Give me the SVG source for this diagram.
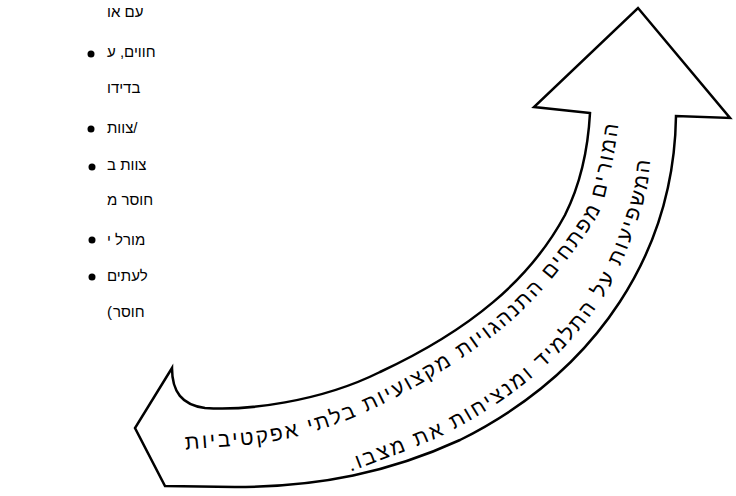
<svg xmlns="http://www.w3.org/2000/svg" width="736" height="496" viewBox="0 0 736 496">
<style>
.t{font-family:"Liberation Sans","DejaVu Sans",sans-serif;font-size:15px;fill:#000}
.a{font-family:"Liberation Sans","DejaVu Sans",sans-serif;font-size:21px;fill:#000}
.o{fill:#fff;stroke:#000;stroke-width:2.5;stroke-linejoin:miter}
</style>
<defs>
<path id="p1" d="M183,450 C218.7,446 255,446.5 290,438 C325,429.5 356.3,418.3 393,399 C429.7,379.7 477.2,350.5 510,322 C542.8,293.5 573.3,252.8 590,228 C606.7,203.2 605.2,190.7 610,173 C614.8,155.3 616,139 619,122"/>
<path id="p2" d="M345,474 C381.7,459 422,446.7 455,429 C488,411.3 517.8,390.7 543,368 C568.2,345.3 589.5,319.8 606,293 C622.5,266.2 634.5,229.7 642,207 C649.5,184.3 648,173.7 651,157"/>
</defs>
<rect width="736" height="496" fill="#fff"/>
<g id="list">
<text class="t" x="107" y="17">עם או</text>
<circle cx="91" cy="54" r="3.5"/>
<text class="t" x="107" y="57">חווים, ע</text>
<text class="t" x="107" y="93">בדידו</text>
<circle cx="91" cy="129" r="3.5"/>
<text class="t" x="107" y="133">צוות/</text>
<circle cx="92" cy="167" r="3.5"/>
<text class="t" x="107" y="170">צוות ב</text>
<text class="t" x="107" y="205">חוסר מ</text>
<circle cx="92" cy="240" r="3.5"/>
<text class="t" x="107" y="245">מורל י</text>
<circle cx="92" cy="277" r="3.5"/>
<text class="t" x="107" y="281">לעתים</text>
<text class="t" x="107" y="317" direction="ltr" unicode-bidi="bidi-override">(</text>
<text class="t" x="113" y="317">חוסר</text>
</g>
<g id="arrow">
<path class="o" d="M590,113 L534,107 L638,8 L730,118 L676,116 C674,250 600,370 460,440 C390,472 320,487 235,487 L165,486 L135,428 L172,368 C172,392 182,405 205,408 C245,411 320,402 380,372 C470,330 530,280 565,215 C580,185 588,150 590,113 Z"/>
<text class="a"><textPath href="#p1" startOffset="50%" text-anchor="middle" textLength="588" lengthAdjust="spacing">המורים מפתחים התנהגויות מקצועיות בלתי אפקטיביות</textPath></text>
<text class="a"><textPath href="#p2" startOffset="50%" text-anchor="middle" textLength="462" lengthAdjust="spacing">המשפיעות על התלמיד ומנציחות את מצבו.&#x200F;</textPath></text>
</g>
</svg>
